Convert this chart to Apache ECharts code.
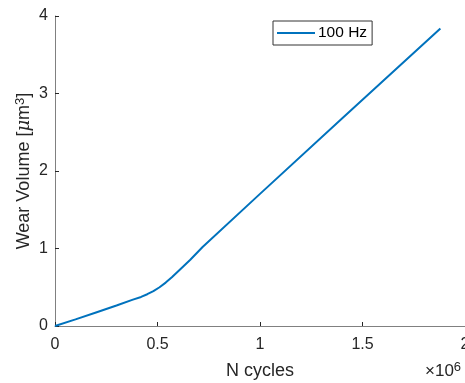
<!DOCTYPE html>
<html>
<head>
<meta charset="utf-8">
<script src="https://cdn.jsdelivr.net/npm/echarts@6/dist/echarts.min.js"></script>
<style>
  html, body { margin: 0; padding: 0; background: #fff; }
  #chart { width: 465px; height: 383px; }
</style>
</head>
<body>
<div id="chart"></div>
<script>
// N cycles in units of 1e6
const cycles = [0, 0.1, 0.2, 0.3, 0.38, 0.42, 0.45, 0.48, 0.51, 0.54, 0.57, 0.61, 0.66, 0.72, 1.0, 1.4, 1.88]
const wearVolume = [0, 0.085, 0.175, 0.265, 0.34, 0.375, 0.41, 0.45, 0.5, 0.56, 0.63, 0.73, 0.855, 1.02, 1.705, 2.678, 3.84]
const xTicks = [0, 0.5, 1, 1.5, 2]
const yTicks = [0, 1, 2, 3, 4]

const chart = echarts.init(document.getElementById('chart'))
const font = 'Liberation Sans, Arial, sans-serif'
const axisGray = '#808080'
const ink = '#262626'

chart.setOption({
  animation: false,
  textStyle: { fontFamily: font },
  grid: { left: 55, right: 0, top: 16, bottom: 57, containLabel: false, outerBoundsMode: 'none' },
  legend: {
    left: 273,
    top: 21,
    width: 98,
    height: 23,
    padding: [4, 5, 4, 4],
    itemWidth: 38,
    itemHeight: 2,
    itemGap: 4,
    icon: 'rect',
    borderColor: '#333',
    borderWidth: 1,
    backgroundColor: '#fff',
    textStyle: { color: '#000', fontSize: 15.5, fontFamily: font, padding: [0, 0, 0, -2] },
    data: ['100 Hz']
  },
  xAxis: {
    type: 'value',
    min: 0,
    max: 2,
    interval: 0.5,
    name: 'N cycles',
    nameLocation: 'middle',
    nameGap: 36,
    nameMoveOverlap: false,
    nameTextStyle: { color: ink, fontSize: 18, fontFamily: font },
    axisLine: { lineStyle: { color: axisGray, width: 1 } },
    axisTick: { inside: true, length: 4, lineStyle: { color: ink } },
    axisLabel: {
      color: ink,
      fontSize: 16,
      margin: 11,
      formatter: (v) => (xTicks.includes(v) ? String(v) : '')
    },
    splitLine: { show: false }
  },
  yAxis: {
    type: 'value',
    min: 0,
    max: 4,
    interval: 1,
    name: '{a|Wear Volume [}{mu|μ}{a|m}{sup|3}{a|]}',
    nameLocation: 'middle',
    nameRotate: 90,
    nameGap: 21,
    nameMoveOverlap: false,
    nameTextStyle: {
      color: ink,
      fontSize: 18,
      rich: {
        a: { fontSize: 18, fontFamily: font, color: ink, lineHeight: 20 },
        mu: { fontSize: 18, fontFamily: 'DejaVu Serif, serif', fontStyle: 'italic', color: ink, lineHeight: 20 },
        sup: { fontSize: 13, fontFamily: font, color: ink, verticalAlign: 'top', lineHeight: 12 }
      }
    },
    axisLine: { show: true, lineStyle: { color: axisGray, width: 1 } },
    axisTick: { show: true, inside: true, length: 4, lineStyle: { color: ink } },
    axisLabel: {
      color: ink,
      fontSize: 16,
      margin: 7,
      formatter: (v) => (yTicks.includes(v) ? String(v) : '')
    },
    splitLine: { show: false }
  },
  graphic: [
    {
      type: 'text',
      left: 425,
      top: 361,
      style: {
        text: '{a|×10}{sup|6}',
        rich: {
          a: { fontSize: 17, fontFamily: font, fill: ink, lineHeight: 20 },
          sup: { fontSize: 13, fontFamily: font, fill: ink, verticalAlign: 'top', lineHeight: 12 }
        }
      }
    }
  ],
  series: [
    {
      name: '100 Hz',
      type: 'line',
      data: cycles.map((c, i) => [c, wearVolume[i]]),
      showSymbol: false,
      smooth: false,
      lineStyle: { color: '#0072BD', width: 2 },
      itemStyle: { color: '#0072BD' }
    }
  ]
})
</script>
</body>
</html>
